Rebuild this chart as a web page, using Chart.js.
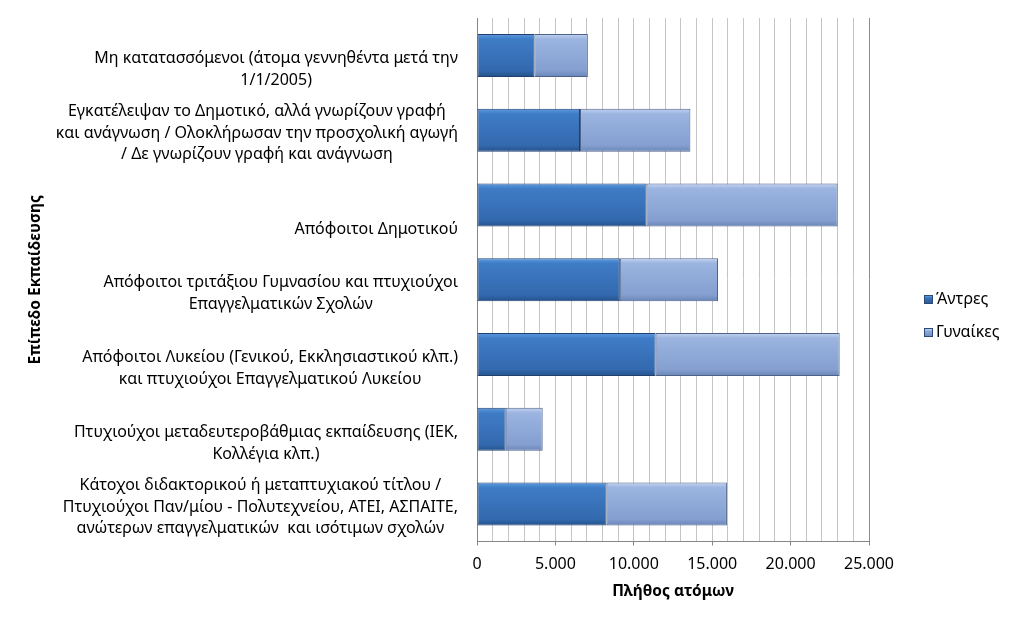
<!DOCTYPE html>
<html>
<head>
<meta charset="utf-8">
<script src="https://cdn.jsdelivr.net/npm/chart.js@4.4.1/dist/chart.umd.min.js"></script>
<style>
  html, body { margin: 0; padding: 0; background: #fff; }
  #wrap { position: relative; width: 1024px; height: 627px; }
  #legend { position: absolute; left: 924px; top: 287px; font: 16px "Noto Sans", sans-serif; color: #000; }
  .item { height: 22px; line-height: 22px; margin-bottom: 11px; white-space: nowrap; }
  .sw { display: inline-block; width: 9px; height: 9px; margin-right: 3px; vertical-align: 0px; box-sizing: border-box; border: 1px solid #2c4a73; }
</style>
</head>
<body>
<div id="wrap">
  <canvas id="chart" width="1024" height="627"></canvas>
  <div id="legend"></div>
</div>
<script>
const categories = [
  ["Μη κατατασσόμενοι (άτομα γεννηθέντα μετά την", "1/1/2005)"],
  ["Εγκατέλειψαν το Δημοτικό, αλλά γνωρίζουν γραφή", "και ανάγνωση / Ολοκλήρωσαν την προσχολική αγωγή", "/ Δε γνωρίζουν γραφή και ανάγνωση"],
  ["Απόφοιτοι Δημοτικού"],
  ["Απόφοιτοι τριτάξιου Γυμνασίου και πτυχιούχοι", "Επαγγελματικών Σχολών"],
  ["Απόφοιτοι Λυκείου (Γενικού, Εκκλησιαστικού κλπ.)", "και πτυχιούχοι Επαγγελματικού Λυκείου"],
  ["Πτυχιούχοι μεταδευτεροβάθμιας εκπαίδευσης (ΙΕΚ,", "Κολλέγια κλπ.)"],
  ["Κάτοχοι διδακτορικού ή μεταπτυχιακού τίτλου /", "Πτυχιούχοι Παν/μίου - Πολυτεχνείου, ΑΤΕΙ, ΑΣΠΑΙΤΕ,", "ανώτερων επαγγελματικών  και ισότιμων σχολών"]
];
const men = [3660, 6570, 10810, 9110, 11390, 1830, 8260];
const women = [3410, 7040, 12190, 6260, 11740, 2360, 7680];
const seriesNames = ["Άντρες", "Γυναίκες"];
const xTicks = [0, 5000, 10000, 15000, 20000, 25000];

const labelFont = '16px "Noto Sans", sans-serif';
const fmt = v => String(v).replace(/\B(?=(\d{3})+(?!\d))/g, ".");

const BAR_PCT = 0.575;

function barGradient(stops, solid) {
  return c => {
    const ch = c.chart;
    const y = ch.scales.y;
    if (c.type !== "data" || !y || !ch.chartArea) return solid;
    const cy = y.getPixelForValue(c.dataIndex);
    const h = y.height / categories.length * BAR_PCT;
    const g = ch.ctx.createLinearGradient(0, cy - h / 2, 0, cy + h / 2);
    stops.forEach(s => g.addColorStop(s[0], s[1]));
    return g;
  };
}

const menColors = [[0, "#5c9ce2"], [0.12, "#3f7cc6"], [0.85, "#3369ae"], [1, "#24528c"]];
const womenColors = [[0, "#c3d4f0"], [0.12, "#9bb4e0"], [0.85, "#849fd0"], [1, "#6a86b8"]];

// category labels: lines centred per label, block right-aligned, bottom-anchored like the source
const yLabels = {
  id: "yLabels",
  afterDraw(chart) {
    const ctx = chart.ctx;
    const y = chart.scales.y;
    const right = y.right - 19;
    const lh = 21.7;
    ctx.save();
    ctx.font = labelFont;
    ctx.fillStyle = "#000";
    ctx.textAlign = "center";
    ctx.textBaseline = "middle";
    categories.forEach((lines, i) => {
      const cy = y.getPixelForValue(i) + 3;
      const w = Math.max(...lines.map(l => ctx.measureText(l).width));
      const cx = right - w / 2;
      lines.forEach((l, k) => {
        ctx.fillText(l, cx, cy + (3 - lines.length + k - 1) * lh);
      });
    });
    ctx.restore();
  }
};

const chart = new Chart(document.getElementById("chart"), {
  type: "bar",
  data: {
    labels: categories,
    datasets: [
      {
        label: seriesNames[0],
        data: men,
        backgroundColor: barGradient(menColors, "#3a73b9"),
        borderColor: "#223f6a",
        borderWidth: 1,
        borderSkipped: false
      },
      {
        label: seriesNames[1],
        data: women,
        backgroundColor: barGradient(womenColors, "#8eaadb"),
        borderColor: "#4f6288",
        borderWidth: 1,
        borderSkipped: false
      }
    ]
  },
  options: {
    indexAxis: "y",
    responsive: false,
    animation: false,
    layout: { padding: { top: 18, right: 155, left: 0, bottom: 0 } },
    datasets: { bar: { categoryPercentage: 1, barPercentage: BAR_PCT } },
    plugins: {
      legend: { display: false },
      tooltip: { enabled: false }
    },
    scales: {
      x: {
        stacked: true,
        min: 0,
        max: 25000,
        afterFit: s => { s.height = 85.5; },
        afterBuildTicks: s => {
          const t = [];
          for (let v = 0; v <= 25000; v += 1000) t.push({ value: v });
          s.ticks = t;
        },
        ticks: {
          autoSkip: false,
          maxRotation: 0,
          padding: 9,
          color: "#000",
          font: { family: "Noto Sans", size: 16 },
          callback: v => xTicks.includes(v) ? fmt(v) : ""
        },
        grid: {
          color: c => c.tick && c.tick.value === 25000 ? "#8c8c8c" : "#c4c4c4",
          tickColor: c => c.tick && xTicks.includes(c.tick.value) ? "#868686" : "rgba(0,0,0,0)",
          tickLength: 4
        },
        border: { color: "#868686" },
        title: {
          display: true,
          text: "Πλήθος ατόμων",
          color: "#000",
          font: { family: "Noto Sans", size: 15.5, weight: "bold" },
          padding: { top: 0, bottom: 26 }
        }
      },
      y: {
        stacked: true,
        afterFit: s => { s.width = 477; },
        ticks: { display: false },
        grid: { display: false },
        border: { color: "#868686" },
        title: {
          display: true,
          text: "Επίπεδο Εκπαίδευσης",
          color: "#000",
          font: { family: "Noto Sans", size: 15.5, weight: "bold" },
          padding: { top: 26, bottom: 0 }
        }
      }
    }
  },
  plugins: [yLabels]
});

// HTML legend built from the datasets
const legendEl = document.getElementById("legend");
const swatch = ["linear-gradient(#5c9ce2, #3a73b9 30%, #2a5a9a)", "linear-gradient(#c3d4f0, #8eaadb 30%, #7390c4)"];
chart.data.datasets.forEach((ds, i) => {
  const item = document.createElement("div");
  item.className = "item";
  const sw = document.createElement("span");
  sw.className = "sw";
  sw.style.background = swatch[i];
  item.appendChild(sw);
  item.appendChild(document.createTextNode(ds.label));
  legendEl.appendChild(item);
});
</script>
</body>
</html>
